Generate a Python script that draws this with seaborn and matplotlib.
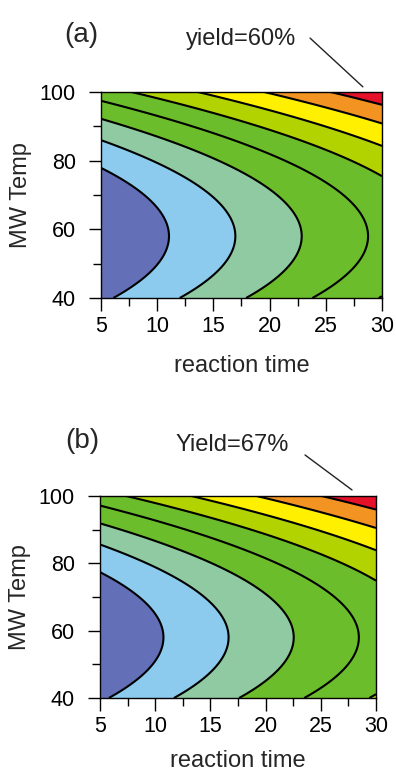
import numpy as np
import matplotlib
matplotlib.use("Agg")
import matplotlib.pyplot as plt
from matplotlib.ticker import MultipleLocator
import seaborn as sns

# ---------------------------
# DATA (fitted response-surface models)
# yield = b_t * time + b_TT * (Temp - T0)^2 + b0
# ---------------------------
time_range = [5, 30]
temp_range = [40, 100]

coef_a = [10.64, 0.847, 58.0, 0.01294]   # b0, b_t, T0, b_TT
coef_b = [9.07, 1.017, 58.0, 0.01554]

levels_a = [20, 25, 30, 35, 40, 45, 50, 55]
levels_b = [20, 26, 32, 38, 44, 50, 56, 62]

band_colors = ["#6370b8", "#8ccbee", "#8fcaa2", "#6bbd2b", "#6bbd2b",
               "#b2d300", "#fff000", "#f39322", "#e5102a"]

x_ticks = [5, 10, 15, 20, 25, 30]
y_ticks = [40, 60, 80, 100]

panel_labels = ["(a)", "(b)"]
yield_labels = ["yield=60%", "Yield=67%"]

# ---------------------------
# STYLE
# ---------------------------
sns.set_theme(style="ticks")
plt.rcParams["font.family"] = ["Liberation Sans", "DejaVu Sans"]
plt.rcParams["axes.edgecolor"] = "black"
plt.rcParams["xtick.color"] = "black"
plt.rcParams["ytick.color"] = "black"

fig = plt.figure(figsize=(3.96, 7.73), dpi=100)
ax_a = fig.add_axes([0.255, 0.6145, 0.7096, 0.2665])
ax_b = fig.add_axes([0.2525, 0.097, 0.697, 0.2613])

t = np.linspace(time_range[0], time_range[1], 300)
T = np.linspace(temp_range[0], temp_range[1], 300)
tt, TT = np.meshgrid(t, T)


def draw_panel(ax, coef, levels, label, ytext, txt_pos, line_from, line_to,
               xpad):
    b0, bt, T0, bTT = coef
    z = bt * tt + bTT * (TT - T0) ** 2 + b0
    bounds = [-100] + levels + [200]
    ax.contourf(tt, TT, z, levels=bounds, colors=band_colors)
    ax.contour(tt, TT, z, levels=levels, colors="black", linewidths=1.5)

    ax.set_xlim(time_range)
    ax.set_ylim(temp_range)
    ax.set_xticks(x_ticks)
    ax.set_yticks(y_ticks)
    ax.xaxis.set_minor_locator(MultipleLocator(2.5))
    ax.yaxis.set_minor_locator(MultipleLocator(10))
    ax.tick_params(which="major", direction="out", length=9, width=1,
                   labelsize=15.5)
    ax.tick_params(axis="x", which="major", pad=4)
    ax.tick_params(axis="y", which="major", pad=9)
    ax.tick_params(which="minor", direction="out", length=6, width=1)
    for sp in ax.spines.values():
        sp.set_linewidth(1)
        sp.set_color("black")

    ax.set_xlabel("reaction time", fontsize=17, labelpad=xpad)
    ax.set_ylabel("MW Temp", fontsize=17, labelpad=6)

    ax.text(label[1][0], label[1][1], label[0], fontsize=20,
            ha="center", va="center", clip_on=False)
    ax.text(txt_pos[0], txt_pos[1], ytext, fontsize=17,
            ha="center", va="center", clip_on=False, color="#222222")
    ax.annotate("", xy=line_to, xytext=line_from, xycoords="data",
                annotation_clip=False,
                arrowprops=dict(arrowstyle="-", lw=1, color="#222222",
                                shrinkA=0, shrinkB=0))


draw_panel(ax_a, coef_a, levels_a, (panel_labels[0], (3.22, 116.6)),
           yield_labels[0], (17.46, 115.4), (23.6, 115.7), (28.3, 101.5), 13)
draw_panel(ax_b, coef_b, levels_b, (panel_labels[1], (3.37, 116.3)),
           yield_labels[1], (16.96, 115.1), (23.57, 112.2), (27.83, 101.8), 9)

fig.savefig("out.png", dpi=100)
